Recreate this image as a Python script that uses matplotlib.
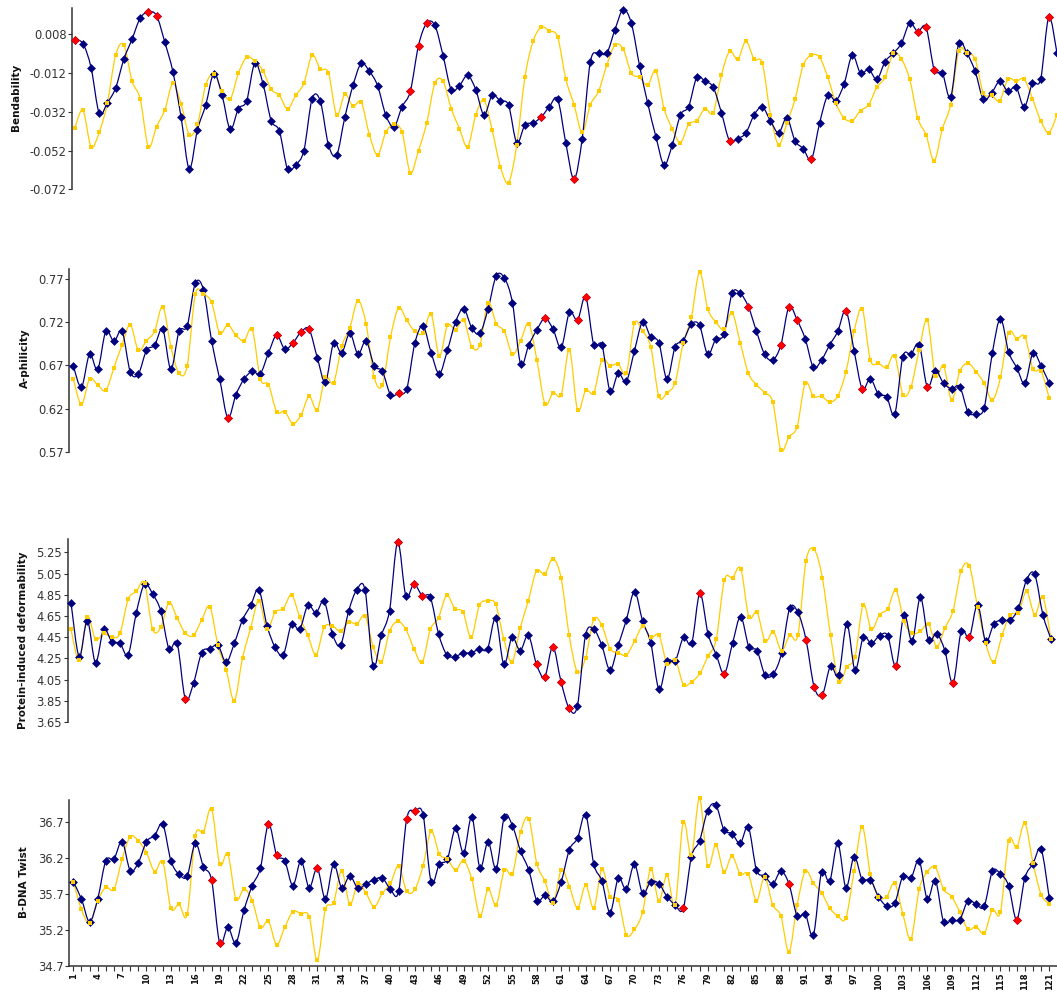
import numpy as np
import matplotlib
matplotlib.use("Agg")
import matplotlib.pyplot as plt
from matplotlib.path import Path
from matplotlib.patches import PathPatch

# ---- data (positions 1..121) ----
bend_blue = [0.0052, 0.0032, -0.0092, -0.0328, -0.0273, -0.0197, -0.0049, 0.0054, 0.0163, 0.0195,
             0.0176, 0.0040, -0.0114, -0.0349, -0.0615, -0.0412, -0.0286, -0.0123, -0.0235, -0.0410,
             -0.0304, -0.0264, -0.0070, -0.0175, -0.0365, -0.0419, -0.0615, -0.0593, -0.0520, -0.0254,
             -0.0264, -0.0491, -0.0543, -0.0348, -0.0184, -0.0070, -0.0111, -0.0185, -0.0336, -0.0398,
             -0.0293, -0.0214, 0.0022, 0.0137, 0.0126, -0.0030, -0.0206, -0.0185, -0.0132, -0.0206,
             -0.0336, -0.0235, -0.0264, -0.0286, -0.0479, -0.0388, -0.0378, -0.0347, -0.0293, -0.0255,
             -0.0482, -0.0668, -0.0458, -0.0061, -0.0018, -0.0018, 0.0104, 0.0207, 0.0137, -0.0082,
             -0.0276, -0.0448, -0.0594, -0.0491, -0.0336, -0.0293, -0.0142, -0.0163, -0.0193, -0.0324,
             -0.0470, -0.0458, -0.0429, -0.0336, -0.0295, -0.0367, -0.0429, -0.0352, -0.0470, -0.0510,
             -0.0565, -0.0378, -0.0235, -0.0262, -0.0175, -0.0028, -0.0121, -0.0101, -0.0152, -0.0061,
             -0.0018, 0.0034, 0.0137, 0.0094, 0.0116, -0.0102, -0.0121, -0.0245, 0.0034, -0.0018,
             -0.0111, -0.0255, -0.0224, -0.0163, -0.0214, -0.0193, -0.0295, -0.0173, -0.0152, 0.0168,
             -0.0018]
bend_yellow = [-0.0405, -0.0312, -0.0500, -0.0426, -0.0273, -0.0028, 0.0025, -0.0161, -0.0254, -0.0500,
               -0.0396, -0.0312, -0.0173, -0.0281, -0.0438, -0.0384, -0.0183, -0.0123, -0.0211, -0.0254,
               -0.0121, -0.0039, -0.0058, -0.0109, -0.0204, -0.0235, -0.0305, -0.0235, -0.0173, -0.0028,
               -0.0099, -0.0120, -0.0336, -0.0230, -0.0291, -0.0271, -0.0438, -0.0543, -0.0426, -0.0384,
               -0.0426, -0.0634, -0.0520, -0.0378, -0.0173, -0.0163, -0.0304, -0.0407, -0.0500, -0.0336,
               -0.0261, -0.0415, -0.0603, -0.0685, -0.0491, -0.0142, 0.0044, 0.0116, 0.0097, 0.0065,
               -0.0152, -0.0283, -0.0426, -0.0283, -0.0214, -0.0080, 0.0025, 0.0004, -0.0121, -0.0142,
               -0.0183, -0.0109, -0.0304, -0.0407, -0.0479, -0.0384, -0.0365, -0.0304, -0.0324, -0.0132,
               -0.0008, -0.0049, 0.0044, -0.0049, -0.0070, -0.0336, -0.0489, -0.0379, -0.0255, -0.0080,
               -0.0028, -0.0039, -0.0142, -0.0276, -0.0353, -0.0365, -0.0314, -0.0283, -0.0193, -0.0142,
               -0.0018, -0.0049, -0.0152, -0.0353, -0.0438, -0.0572, -0.0407, -0.0283, -0.0007, -0.0018,
               -0.0049, -0.0224, -0.0235, -0.0262, -0.0152, -0.0163, -0.0152, -0.0252, -0.0365, -0.0427,
               -0.0336]
bend_red = [1, 10, 11, 42, 43, 44, 58, 62, 81, 91, 104, 105, 106, 120]

aphil_blue = [0.6693, 0.6449, 0.6828, 0.6654, 0.7094, 0.6978, 0.7094, 0.6627, 0.6600, 0.6874,
              0.6932, 0.7117, 0.6654, 0.7094, 0.7156, 0.7650, 0.7576, 0.6986, 0.6542, 0.6094,
              0.6361, 0.6542, 0.6631, 0.6604, 0.6843, 0.7048, 0.6889, 0.6959, 0.7086, 0.7117,
              0.6789, 0.6507, 0.6959, 0.6843, 0.7071, 0.6831, 0.6982, 0.6693, 0.6631, 0.6361,
              0.6376, 0.6430, 0.6959, 0.7156, 0.6847, 0.6604, 0.6874, 0.7202, 0.7356, 0.7133,
              0.7071, 0.7356, 0.7735, 0.7712, 0.7422, 0.6716, 0.6936, 0.7113, 0.7245, 0.7117,
              0.6909, 0.7314, 0.7225, 0.7492, 0.6936, 0.6936, 0.6399, 0.6608, 0.6515, 0.6870,
              0.7202, 0.7025, 0.6963, 0.6538, 0.6916, 0.6986, 0.7179, 0.7163, 0.6828, 0.7005,
              0.7059, 0.7534, 0.7534, 0.7380, 0.7094, 0.6828, 0.6762, 0.6936, 0.7380, 0.7225,
              0.7005, 0.6677, 0.6762, 0.6936, 0.7094, 0.7333, 0.6870, 0.6430, 0.6546, 0.6364,
              0.6337, 0.6137, 0.6801, 0.6828, 0.6940, 0.6453, 0.6638, 0.6492, 0.6430, 0.6453,
              0.6164, 0.6137, 0.6210, 0.6843, 0.7241, 0.6855, 0.6673, 0.6492, 0.6843, 0.6693,
              0.6492]
aphil_yellow = [0.6542, 0.6249, 0.6542, 0.6473, 0.6411, 0.6673, 0.6940, 0.7171, 0.6874, 0.6986,
                0.7094, 0.7380, 0.6916, 0.6608, 0.6693, 0.7522, 0.7522, 0.7430, 0.7075, 0.7171,
                0.7048, 0.6986, 0.7117, 0.6542, 0.6476, 0.6164, 0.6164, 0.6025, 0.6125, 0.6341,
                0.6183, 0.6565, 0.6496, 0.6920, 0.7136, 0.7449, 0.7179, 0.6561, 0.6473, 0.7025,
                0.7364, 0.7221, 0.7094, 0.7071, 0.7295, 0.6808, 0.7163, 0.7113, 0.7225, 0.6916,
                0.6940, 0.7426, 0.7183, 0.7094, 0.6828, 0.6986, 0.7183, 0.6762, 0.6253, 0.6384,
                0.6361, 0.6878, 0.6183, 0.6411, 0.6384, 0.6762, 0.6696, 0.6716, 0.6608, 0.7187,
                0.7094, 0.6916, 0.6341, 0.6384, 0.6500, 0.6963, 0.7256, 0.7781, 0.7356, 0.7202,
                0.7117, 0.7306, 0.6963, 0.6608, 0.6476, 0.6384, 0.6276, 0.5720, 0.5874, 0.5990,
                0.6496, 0.6341, 0.6341, 0.6276, 0.6345, 0.6627, 0.7094, 0.7356, 0.6762, 0.6723,
                0.6677, 0.6812, 0.6361, 0.6453, 0.6878, 0.7225, 0.6581, 0.6696, 0.6299, 0.6631,
                0.6723, 0.6627, 0.6492, 0.6299, 0.6561, 0.7079, 0.7009, 0.7032, 0.6658, 0.6631,
                0.6318]
aphil_red = [20, 26, 28, 29, 30, 41, 59, 63, 64, 84, 88, 89, 90, 96, 98, 106]

deform_blue = [4.775, 4.266, 4.606, 4.209, 4.524, 4.408, 4.392, 4.285, 4.681, 4.951,
               4.857, 4.697, 4.341, 4.392, 3.867, 4.015, 4.304, 4.341, 4.373, 4.213,
               4.392, 4.612, 4.750, 4.898, 4.558, 4.354, 4.285, 4.574, 4.524, 4.750,
               4.681, 4.788, 4.483, 4.373, 4.697, 4.898, 4.895, 4.178, 4.467, 4.700,
               5.347, 4.841, 4.951, 4.841, 4.826, 4.483, 4.285, 4.266, 4.301, 4.301,
               4.341, 4.341, 4.628, 4.194, 4.448, 4.323, 4.467, 4.194, 4.074, 4.360,
               4.030, 3.779, 3.801, 4.467, 4.524, 4.373, 4.140, 4.373, 4.612, 4.879,
               4.599, 4.392, 3.958, 4.225, 4.228, 4.448, 4.392, 4.863, 4.483, 4.285,
               4.106, 4.392, 4.643, 4.360, 4.323, 4.090, 4.106, 4.297, 4.722, 4.684,
               4.426, 3.980, 3.908, 4.178, 4.090, 4.574, 4.140, 4.448, 4.392, 4.464,
               4.464, 4.178, 4.662, 4.411, 4.826, 4.426, 4.483, 4.323, 4.015, 4.505,
               4.448, 4.756, 4.411, 4.574, 4.612, 4.612, 4.722, 4.989, 5.043, 4.662,
               4.430]
deform_yellow = [4.524, 4.235, 4.643, 4.430, 4.486, 4.448, 4.486, 4.807, 4.882, 4.958,
                 4.524, 4.543, 4.775, 4.631, 4.486, 4.467, 4.612, 4.738, 4.373, 4.143,
                 3.851, 4.253, 4.536, 4.794, 4.524, 4.687, 4.719, 4.848, 4.643, 4.467,
                 4.285, 4.543, 4.558, 4.505, 4.593, 4.574, 4.650, 4.360, 4.216, 4.505,
                 4.599, 4.524, 4.341, 4.213, 4.524, 4.634, 4.844, 4.719, 4.687, 4.448,
                 4.750, 4.791, 4.760, 4.430, 4.216, 4.536, 4.794, 5.077, 5.043, 5.190,
                 5.011, 4.467, 4.125, 4.253, 4.618, 4.562, 4.341, 4.304, 4.282, 4.411,
                 4.552, 4.448, 4.467, 4.197, 4.235, 4.002, 4.030, 4.109, 4.272, 4.430,
                 4.989, 5.011, 5.096, 4.643, 4.684, 4.414, 4.502, 4.323, 4.467, 4.467,
                 5.168, 5.278, 5.008, 4.467, 4.030, 4.172, 4.266, 4.756, 4.524, 4.662,
                 4.719, 4.895, 4.599, 4.486, 4.505, 4.574, 4.360, 4.536, 4.700, 5.077,
                 5.121, 4.738, 4.392, 4.216, 4.467, 4.662, 4.681, 4.882, 4.662, 4.826,
                 4.430]
deform_red = [15, 41, 43, 44, 58, 59, 60, 61, 62, 78, 81, 91, 92, 93, 102, 109, 111]

twist_blue = [35.872, 35.630, 35.314, 35.630, 36.165, 36.188, 36.430, 36.026, 36.137, 36.430,
              36.514, 36.672, 36.165, 35.974, 35.951, 36.407, 36.081, 35.895, 35.016, 35.235,
              35.016, 35.477, 35.816, 36.058, 36.672, 36.244, 36.165, 35.816, 36.165, 35.788,
              36.058, 35.630, 36.114, 35.788, 35.951, 35.779, 35.840, 35.900, 35.923, 35.765,
              35.737, 36.751, 36.853, 36.807, 35.867, 36.114, 36.188, 36.616, 36.272, 36.774,
              36.063, 36.430, 36.053, 36.779, 36.649, 36.295, 36.035, 35.607, 35.681, 35.598,
              35.872, 36.319, 36.477, 36.807, 36.114, 35.881, 35.440, 35.919, 35.765, 36.114,
              35.709, 35.872, 35.844, 35.663, 35.547, 35.500, 36.221, 36.440, 36.863, 36.942,
              36.593, 36.542, 36.407, 36.630, 36.035, 35.951, 35.840, 36.016, 35.840, 35.393,
              35.421, 35.128, 36.007, 35.877, 36.407, 35.788, 36.221, 35.900, 35.900, 35.663,
              35.533, 35.570, 35.951, 35.923, 36.165, 35.630, 35.886, 35.314, 35.342, 35.342,
              35.607, 35.556, 35.528, 36.016, 35.979, 35.816, 35.342, 35.923, 36.123, 36.323,
              35.640]
twist_yellow = [35.872, 35.486, 35.291, 35.607, 35.793, 35.765, 36.188, 36.500, 36.440, 36.277,
                36.012, 36.147, 35.500, 35.556, 35.416, 36.514, 36.565, 36.886, 36.114, 36.258,
                35.630, 35.770, 35.607, 35.235, 35.319, 34.993, 35.235, 35.453, 35.426, 35.384,
                34.779, 35.486, 35.579, 36.021, 35.556, 35.849, 35.709, 35.523, 35.709, 35.849,
                36.091, 35.737, 35.765, 36.091, 36.574, 36.258, 36.184, 36.035, 36.165, 35.905,
                35.393, 35.770, 35.547, 36.035, 35.979, 36.565, 36.751, 36.119, 35.877, 35.570,
                36.035, 35.802, 35.505, 35.821, 35.505, 36.044, 35.663, 35.616, 35.133, 35.207,
                35.449, 36.044, 35.607, 35.960, 35.547, 36.705, 36.240, 37.035, 36.091, 36.384,
                36.012, 36.230, 35.979, 35.979, 35.607, 35.933, 35.547, 35.393, 34.895, 35.547,
                36.016, 35.849, 35.719, 35.505, 35.393, 35.370, 36.016, 36.640, 35.979, 35.663,
                35.663, 35.849, 35.421, 35.077, 35.765, 36.007, 36.072, 35.765, 35.663, 35.449,
                35.207, 35.244, 35.151, 35.477, 35.449, 36.444, 36.351, 36.686, 36.128, 35.691,
                35.560]
twist_red = [18, 19, 25, 26, 31, 42, 43, 76, 89, 117]

labels = ["Bendability", "A-philicity", "Protein-induced deformability", "B-DNA Twist"]
yticks = [[0.008, -0.012, -0.032, -0.052, -0.072],
          [0.77, 0.72, 0.67, 0.62, 0.57],
          [5.25, 5.05, 4.85, 4.65, 4.45, 4.25, 4.05, 3.85, 3.65],
          [36.7, 36.2, 35.7, 35.2, 34.7]]
ytick_text = [["0.008", "-0.012", "-0.032", "-0.052", "-0.072"],
              ["0.77", "0.72", "0.67", "0.62", "0.57"],
              ["5.25", "5.05", "4.85", "4.65", "4.45", "4.25", "4.05", "3.85", "3.65"],
              ["36.7", "36.2", "35.7", "35.2", "34.7"]]

NAVY = "#00007f"
GOLD = "#ffcc00"
RED = "#ff0000"
W, H = 1057., 992.


def smooth_path(x, y):
    # cubic bezier through every point (catmull-rom tangents)
    p = np.column_stack([x, y]).astype(float)
    n = len(p)
    verts = [p[0]]
    codes = [Path.MOVETO]
    for i in range(n - 1):
        p0 = p[i - 1] if i > 0 else p[i]
        p3 = p[i + 2] if i + 2 < n else p[i + 1]
        verts += [p[i] + (p[i + 1] - p0) / 6., p[i + 1] - (p3 - p[i]) / 6., p[i + 1]]
        codes += [Path.CURVE4] * 3
    return Path(verts, codes)


# axes boxes in pixels: left, top, bottom ; x limits ; y limits
boxes = [(72, 8.3, 189.3), (69.3, 269, 451.7), (67.7, 539, 722), (69.3, 800, 965.7)]
xlims = [(0.67, 121.0), (0.508, 121.95), (0.596, 121.73), (0.508, 121.95)]
ylims = [(-0.072, 0.0214), (0.570, 0.7816), (3.65, 5.376), (34.7, 37.01)]
label_pos = [(16, 97), (24.5, 358), (23.5, 640), (24, 882)]

series = [(bend_blue, bend_yellow, bend_red),
          (aphil_blue, aphil_yellow, aphil_red),
          (deform_blue, deform_yellow, deform_red),
          (twist_blue, twist_yellow, twist_red)]

fig = plt.figure(figsize=(W / 100, H / 100), dpi=100)

for k in range(4):
    left, top, bot = boxes[k]
    ax = fig.add_axes([left / W, 1 - bot / H, (W - left) / W, (bot - top) / H])
    blue, yellow, red = series[k]
    x = np.arange(1, len(blue) + 1)
    blue = np.array(blue)
    yellow = np.array(yellow)
    red_i = np.array(red) - 1

    ax.add_patch(PathPatch(smooth_path(x, yellow), fill=False, edgecolor=GOLD, lw=0.9,
                           zorder=2, clip_on=False))
    ax.add_patch(PathPatch(smooth_path(x, blue), fill=False, edgecolor=NAVY, lw=0.9,
                           zorder=3, clip_on=False))
    ax.plot(x, blue, ls="none", marker="D", ms=4.0, mfc=NAVY, mec=NAVY, mew=0.4,
            zorder=4, clip_on=False)
    ax.plot(x[red_i], blue[red_i], ls="none", marker="D", ms=4.3, mfc=RED, mec=RED,
            mew=0.4, zorder=5, clip_on=False)
    ax.plot(x, yellow, ls="none", marker="s", ms=3.2, mfc=GOLD, mec=GOLD, mew=0,
            zorder=6, clip_on=False)

    ax.set_xlim(*xlims[k])
    ax.set_ylim(*ylims[k])
    for s in ["top", "right"]:
        ax.spines[s].set_visible(False)
    ax.spines["left"].set_color("#333333")
    ax.spines["left"].set_linewidth(1.1)
    ax.set_yticks(yticks[k])
    ax.set_yticklabels(ytick_text[k])
    ax.tick_params(axis="y", length=3, width=0.8, color="#333333", pad=1,
                   labelsize=8.3, labelcolor="#333333")
    if k < 3:
        ax.spines["bottom"].set_visible(False)
        ax.set_xticks([])
    else:
        ax.spines["bottom"].set_color("#333333")
        ax.spines["bottom"].set_linewidth(1.1)
        ax.set_xticks(x)
        ax.set_xticklabels([str(i) if (i - 1) % 3 == 0 else "" for i in x],
                           rotation=90, fontsize=6, fontweight="bold")
        ax.tick_params(axis="x", length=3.5, width=0.8, color="#333333", pad=1.5,
                       labelcolor="#111111")
    ax.patch.set_alpha(0)

    lx, ly = label_pos[k]
    fig.text(lx / W, 1 - ly / H, labels[k], rotation=90, ha="center", va="center",
             fontsize=7.5, fontweight="bold", color="#111111")

fig.savefig("out.png", dpi=100)
